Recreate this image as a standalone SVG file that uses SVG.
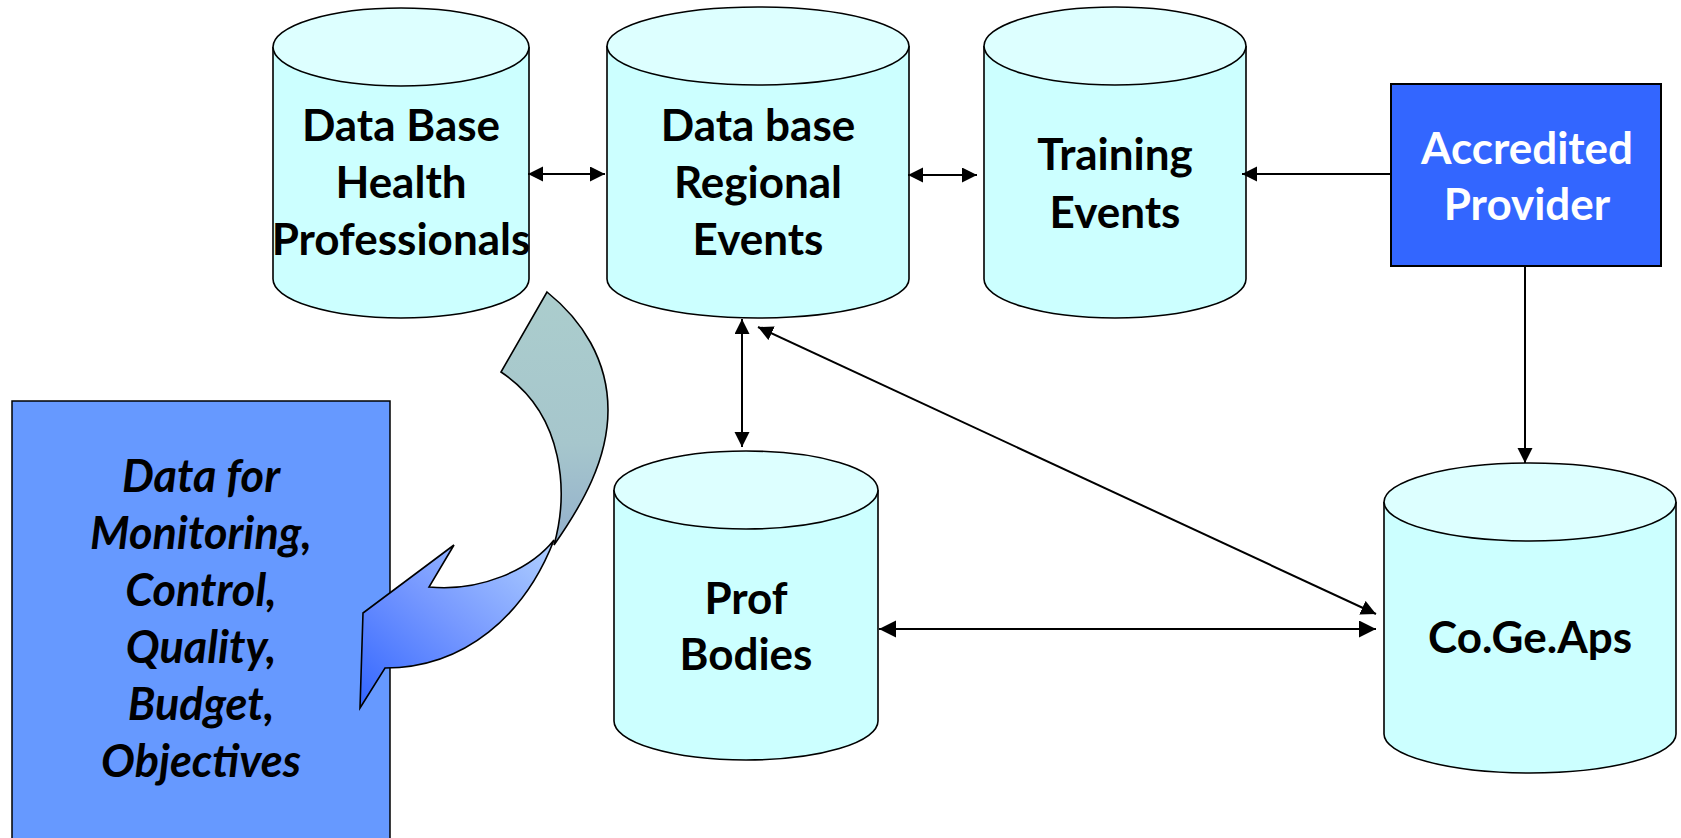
<svg xmlns="http://www.w3.org/2000/svg" width="1681" height="838" viewBox="0 0 1681 838">
<style>
.body{fill:#ccffff;stroke:#000;stroke-width:1.6}
.top{fill:#ddffff;stroke:#000;stroke-width:1.6}
.t{font-family:Lato,"Liberation Sans",sans-serif;font-weight:bold;font-size:44px;text-anchor:middle;fill:#000}
.w{fill:#fff}
.i{font-style:italic;font-size:45px}
.c{stroke:#000;stroke-width:2;fill:none}
</style>
<defs>
<marker id="ah" markerUnits="userSpaceOnUse" markerWidth="16" markerHeight="16" refX="15" refY="7.5" orient="auto-start-reverse" viewBox="0 0 16 16"><path d="M0,0 L15,7.5 L0,15 Z" fill="#000"/></marker>
<marker id="ahb" markerUnits="userSpaceOnUse" markerWidth="18" markerHeight="18" refX="17" refY="8.5" orient="auto-start-reverse" viewBox="0 0 18 18"><path d="M0,0 L17,8.5 L0,17 Z" fill="#000"/></marker>
<linearGradient id="gU" x1="0" y1="0" x2="0" y2="1"><stop offset="0" stop-color="#abcdcd"/><stop offset="0.6" stop-color="#a6c6cc"/><stop offset="1" stop-color="#93b0cc"/></linearGradient>
<linearGradient id="gL" x1="1" y1="0" x2="0" y2="1"><stop offset="0" stop-color="#b0d0ff"/><stop offset="0.5" stop-color="#7799ff"/><stop offset="1" stop-color="#3366ff"/></linearGradient>
</defs>

<g id="data-box">
<rect x="12" y="401" width="378" height="450" fill="#6699ff" stroke="#000" stroke-width="1.5"/>
<text class="t i" x="201" y="492">Data for</text>
<text class="t i" x="201" y="549">Monitoring,</text>
<text class="t i" x="201" y="606">Control,</text>
<text class="t i" x="201" y="663">Quality,</text>
<text class="t i" x="201" y="720">Budget,</text>
<text class="t i" x="201" y="777">Objectives</text>
</g>

<g id="curved-arrow">
<path d="M547,292 C582,320 608,360 608,410 C608,460 582,505 554,545 C568,495 566,415 501,372 Z" fill="url(#gU)" stroke="#000" stroke-width="1.6" stroke-linejoin="miter"/>
<path d="M554,540 C525,615 465,668 385,668 L360,708 L363,613 L454,545 L429,587 C480,592 530,570 554,540 Z" fill="url(#gL)" stroke="#000" stroke-width="1.6"/>
</g>

<g id="db-health">
<path class="body" d="M273,47 V279 A128,39 0 0 0 529,279 V47"/>
<ellipse class="top" cx="401" cy="47" rx="128" ry="39"/>
<text class="t" x="401" y="141">Data Base</text>
<text class="t" x="401" y="198">Health</text>
<text class="t" x="401" y="255">Professionals</text>
</g>

<g id="db-regional">
<path class="body" d="M607,46 V279 A151,39 0 0 0 909,279 V46"/>
<ellipse class="top" cx="758" cy="46" rx="151" ry="39"/>
<text class="t" x="758" y="141">Data base</text>
<text class="t" x="758" y="198">Regional</text>
<text class="t" x="758" y="255">Events</text>
</g>

<g id="training">
<path class="body" d="M984,46 V279 A131,39 0 0 0 1246,279 V46"/>
<ellipse class="top" cx="1115" cy="46" rx="131" ry="39"/>
<text class="t" x="1115" y="170">Training</text>
<text class="t" x="1115" y="228">Events</text>
</g>

<g id="provider">
<rect x="1391" y="84" width="270" height="182" fill="#3366ff" stroke="#000" stroke-width="2"/>
<text class="t w" x="1527" y="164">Accredited</text>
<text class="t w" x="1527" y="220">Provider</text>
</g>

<g id="prof-bodies">
<path class="body" d="M614,490 V721 A132,39 0 0 0 878,721 V490"/>
<ellipse class="top" cx="746" cy="490" rx="132" ry="39"/>
<text class="t" x="746" y="614">Prof</text>
<text class="t" x="746" y="670">Bodies</text>
</g>

<g id="cogeaps">
<path class="body" d="M1384,502 V734 A146,39 0 0 0 1676,734 V502"/>
<ellipse class="top" cx="1530" cy="502" rx="146" ry="39"/>
<text class="t" x="1530" y="653">Co.Ge.Aps</text>
</g>

<g id="connectors">
<line class="c" x1="528" y1="174" x2="605" y2="174" marker-start="url(#ah)" marker-end="url(#ah)"/>
<line class="c" x1="908" y1="175" x2="977" y2="175" marker-start="url(#ah)" marker-end="url(#ah)"/>
<line class="c" x1="1391" y1="174" x2="1242" y2="174" marker-end="url(#ah)"/>
<line class="c" x1="742" y1="319" x2="742" y2="447" marker-start="url(#ah)" marker-end="url(#ah)"/>
<line class="c" x1="758" y1="327" x2="1376" y2="614" marker-start="url(#ah)" marker-end="url(#ah)"/>
<line class="c" x1="879" y1="629" x2="1376" y2="629" stroke-width="3" marker-start="url(#ahb)" marker-end="url(#ahb)"/>
<line class="c" x1="1525" y1="266" x2="1525" y2="463" marker-end="url(#ah)"/>
</g>
</svg>
